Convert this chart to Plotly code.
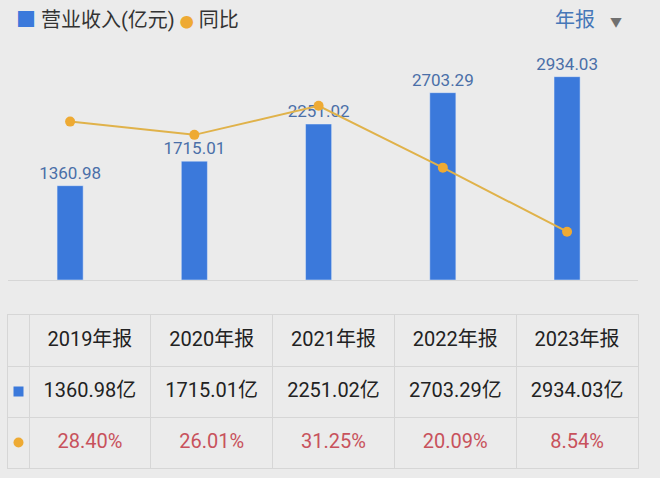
import plotly.graph_objects as go

years = ["2019年报", "2020年报", "2021年报", "2022年报", "2023年报"]
revenue = [1360.98, 1715.01, 2251.02, 2703.29, 2934.03]
yoy = [28.40, 26.01, 31.25, 20.09, 8.54]
legend_rev = "营业收入(亿元)"
legend_yoy = "同比"
period_label = "年报"

W, H = 660, 478
BG = "#ebebeb"
BAR = "#3b79db"
LINE = "#e0b24a"
DOT = "#eeaa33"
GRID = "#d6d6d6"
FONT = "Roboto, Noto Sans CJK SC, sans-serif"


def py(px):
    return 1 - px / H


fig = go.Figure()

# chart
fig.add_trace(go.Bar(
    x=list(range(len(years))), y=revenue, width=0.21, marker_color=BAR,
    text=[f"{v:.2f}" for v in revenue], textposition="outside", constraintext="none",
    textfont=dict(color="#4a6fa8", size=17, family=FONT),
    cliponaxis=False, xaxis="x", yaxis="y", showlegend=False,
))
fig.add_trace(go.Scatter(
    x=list(range(len(years))), y=yoy, mode="lines+markers",
    line=dict(color=LINE, width=2),
    marker=dict(color=DOT, size=10),
    xaxis="x", yaxis="y2", showlegend=False, cliponaxis=False,
))

# table (built on its own axes)
n = len(years)
marker_col = 21 / 121.8
tx, ty, tt, tc = [], [], [], []
for i, yr in enumerate(years):
    tx += [i, i, i]
    ty += [0, 1, 2]
    tt += [yr, f"{revenue[i]:.2f}亿", f"{yoy[i]:.2f}%"]
    tc += ["#222222", "#222222", "#c8525c"]
fig.add_trace(go.Scatter(
    x=tx, y=ty, text=tt, mode="text", textposition="middle center",
    textfont=dict(size=20, color=tc, family=FONT),
    xaxis="x3", yaxis="y3", showlegend=False, hoverinfo="skip",
))
fig.add_trace(go.Scatter(
    x=[-0.5 - marker_col / 2] * 2, y=[1, 2], mode="markers",
    marker=dict(symbol=["square", "circle"], color=[BAR, DOT], size=10),
    xaxis="x3", yaxis="y3", showlegend=False, hoverinfo="skip",
))

fig.update_layout(
    width=W, height=H, margin=dict(l=0, r=0, t=0, b=0),
    paper_bgcolor=BG, plot_bgcolor=BG,
    font=dict(family=FONT),
    xaxis=dict(domain=[8 / W, 638 / W], range=[-0.5, 4.571], showticklabels=False,
               showgrid=False, zeroline=False, showline=True, linecolor="#d6d6d6",
               linewidth=1, ticks="", fixedrange=True),
    yaxis=dict(domain=[py(280), py(50)], range=[0, 230 / 0.0693], visible=False),
    yaxis2=dict(domain=[py(280), py(50)], range=[-0.18, 41.32], visible=False,
                overlaying="y", anchor="x"),
    xaxis3=dict(domain=[8 / W, 638 / W], range=[-0.5 - marker_col, n - 0.5],
                tickvals=[i - 0.5 for i in range(n)], showticklabels=False, ticks="",
                showgrid=True, gridcolor=GRID, gridwidth=1, zeroline=False,
                showline=True, mirror=True, linecolor=GRID, linewidth=1, anchor="y3"),
    yaxis3=dict(domain=[py(468), py(315)], range=[2.5, -0.5],
                tickvals=[0.5, 1.5], showticklabels=False, ticks="",
                showgrid=True, gridcolor=GRID, gridwidth=1, zeroline=False,
                showline=True, mirror=True, linecolor=GRID, linewidth=1, anchor="x3"),
    annotations=[
        dict(xref="paper", yref="paper", x=14 / W, y=py(20), xanchor="left", yanchor="middle",
             showarrow=False,
             text=(f"<span style='color:{BAR}'>■</span> {legend_rev} "
                   f"<span style='color:{DOT};font-size:14px'>●</span> {legend_yoy}"),
             font=dict(size=20, color="#333333", family=FONT)),
        dict(xref="paper", yref="paper", x=624 / W, y=py(20), xanchor="right", yanchor="middle",
             showarrow=False,
             text=f"{period_label}   <span style='color:#707070;font-size:12px'>▼</span>",
             font=dict(size=20, color="#4677b8", family=FONT)),
    ],
)

fig.write_html(
    "out.html",
    config={"displayModeBar": False},
    post_script="document.body.style.margin='0';document.body.style.background='#ebebeb';"
                "document.body.style.overflow='hidden';",
)
